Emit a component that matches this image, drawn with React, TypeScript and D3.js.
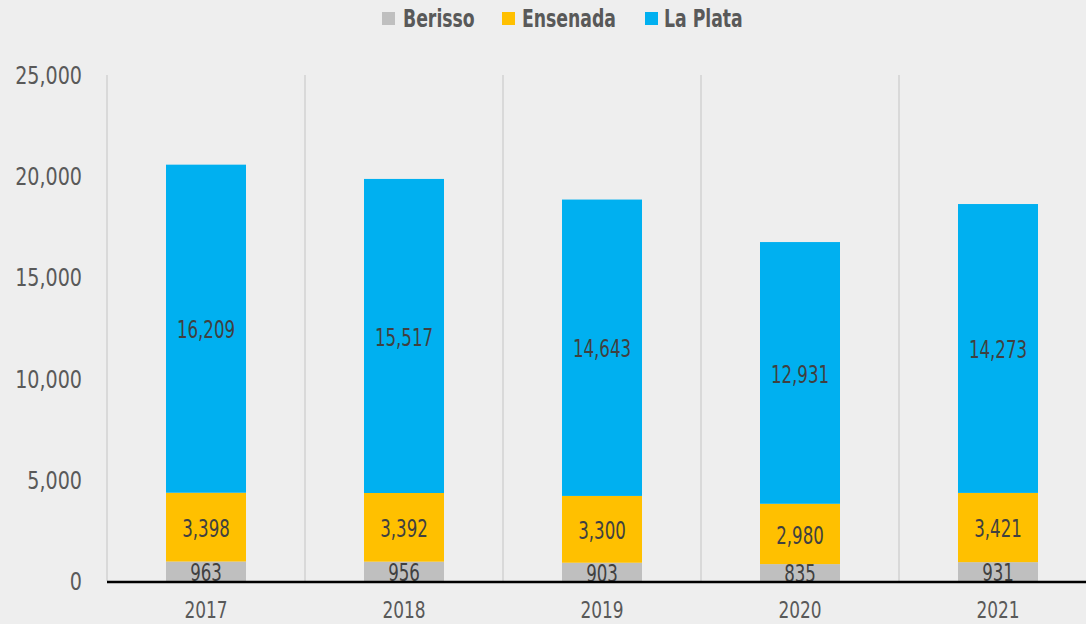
import React from "react";
import { scaleBand, scaleLinear, stack, format } from "d3";

const years = ["2017", "2018", "2019", "2020", "2021"];
const berisso = [963, 956, 903, 835, 931];
const ensenada = [3398, 3392, 3300, 2980, 3421];
const laPlata = [16209, 15517, 14643, 12931, 14273];
const yTicks = [0, 5000, 10000, 15000, 20000, 25000];

const seriesNames = ["Berisso", "Ensenada", "La Plata"];
const colors = ["#bfbfbf", "#ffc000", "#00b0f0"];

const W = 1086;
const H = 624;
const FONT = "'DejaVu Sans Condensed', sans-serif";

// condensed text: the original font is narrower than anything installed
function Txt({ x, y, anchor = "start", size, sx, fill, bold = false, children }: any) {
  return (
    <text
      transform={`translate(${x},${y}) scale(${sx},1)`}
      dy="0.36em"
      textAnchor={anchor}
      fontSize={size}
      fontWeight={bold ? "bold" : "normal"}
      fill={fill}
    >
      {children}
    </text>
  );
}

function App() {
  const rows = years.map((y, i) => ({
    year: y,
    Berisso: berisso[i],
    Ensenada: ensenada[i],
    "La Plata": laPlata[i],
  }));
  const stacked = stack<any>().keys(seriesNames)(rows);

  const x = scaleBand().domain(years).range([107, 1097]);
  const y = scaleLinear().domain([0, 25000]).range([581, 75]);
  const barW = 80;
  const fmt = format(",");

  const legendItems = [
    { name: "Berisso", sx: 382, tx: 403 },
    { name: "Ensenada", sx: 502, tx: 522 },
    { name: "La Plata", sx: 645, tx: 664 },
  ];

  return (
    <div style={{ position: "absolute", left: 0, top: 0 }}>
      <svg width={W} height={H} style={{ display: "block", fontFamily: FONT }}>
        <rect width={W} height={H} fill="#eeeeee" />

        {/* category separators */}
        {years.map((yr) => (
          <line
            key={"g" + yr}
            x1={x(yr)!}
            x2={x(yr)!}
            y1={75}
            y2={581}
            stroke="#d9d9d9"
            strokeWidth={2}
          />
        ))}

        {/* y tick labels */}
        {yTicks.map((t) => (
          <Txt key={"t" + t} x={82} y={y(t)} anchor="end" size={25} sx={0.85} fill="#595959">
            {fmt(t)}
          </Txt>
        ))}

        {/* bars */}
        {stacked.map((s, si) =>
          s.map((d, i) => {
            const cx = x(years[i])! + x.bandwidth() / 2;
            const y0 = y(d[0]);
            const y1 = y(d[1]);
            return (
              <g key={s.key + i}>
                <rect
                  x={cx - barW / 2}
                  y={y1}
                  width={barW}
                  height={y0 - y1}
                  fill={colors[si]}
                />
                <Txt
                  x={cx}
                  y={(y0 + y1) / 2 + 1}
                  anchor="middle"
                  size={24}
                  sx={0.77}
                  fill="#404040"
                >
                  {fmt(d[1] - d[0])}
                </Txt>
              </g>
            );
          })
        )}

        {/* x axis */}
        <line x1={107} x2={W} y1={582} y2={582} stroke="#000" strokeWidth={2.5} />
        {years.map((yr) => (
          <Txt
            key={"x" + yr}
            x={x(yr)! + x.bandwidth() / 2}
            y={610}
            anchor="middle"
            size={23}
            sx={0.82}
            fill="#595959"
          >
            {yr}
          </Txt>
        ))}

        {/* legend */}
        {legendItems.map((l, i) => (
          <g key={l.name}>
            <rect x={l.sx} y={12} width={13} height={13} fill={colors[i]} />
            <Txt x={l.tx} y={18.5} size={24} sx={0.8} bold fill="#595959">
              {l.name}
            </Txt>
          </g>
        ))}
      </svg>
    </div>
  );
}

export default App;
